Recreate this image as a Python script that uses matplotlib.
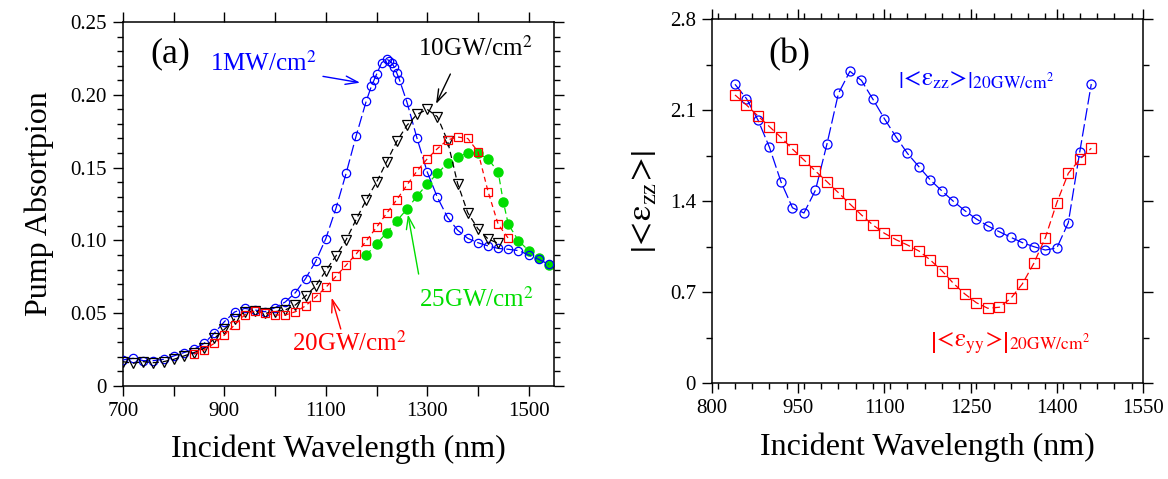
# !usr/bin/env python3
# ===========================================================
# Pump absorption (a) and field enhancement (b) vs incident
# wavelength, two panels side by side
# ===========================================================

import numpy as np
import matplotlib
matplotlib.use('Agg')
import matplotlib.pyplot as plt
from matplotlib.ticker import FixedLocator, MultipleLocator, FuncFormatter

plt.rcParams['font.family'] = ['Liberation Serif', 'DejaVu Serif']
plt.rcParams['mathtext.fontset'] = 'stix'

# == Data, panel (a) ========================================
wl_1mw = [700, 720, 740, 760, 780, 800, 820, 840, 860, 880, 900, 920,
          940, 960, 980, 1000, 1020, 1040, 1060, 1080, 1100, 1120, 1140,
          1160, 1180, 1190, 1195, 1200, 1210, 1220, 1225, 1230, 1235,
          1240, 1245, 1260, 1280, 1300, 1320, 1340, 1360, 1380, 1400,
          1420, 1440, 1460, 1480, 1500, 1520, 1540]
abs_1mw = [0.0179, 0.019, 0.0174, 0.0174, 0.0183, 0.0206, 0.0229, 0.0252,
           0.0293, 0.0362, 0.0442, 0.0508, 0.0533, 0.0522, 0.051, 0.0538,
           0.0577, 0.0641, 0.0737, 0.0856, 0.1012, 0.122, 0.146, 0.172,
           0.196, 0.206, 0.210, 0.214, 0.222, 0.2245, 0.2235, 0.222,
           0.219, 0.215, 0.2105, 0.195, 0.170, 0.147, 0.1296, 0.1159,
           0.107, 0.1014, 0.0984, 0.0962, 0.0945, 0.0939, 0.093, 0.090,
           0.087, 0.0835]

wl_10gw = [700, 720, 740, 760, 780, 800, 820, 840, 860, 880, 900, 920,
           940, 960, 980, 1000, 1020, 1040, 1060, 1080, 1100, 1120, 1140,
           1160, 1180, 1200, 1220, 1240, 1260, 1280, 1300, 1320, 1340,
           1360, 1380, 1400, 1420, 1440]
abs_10gw = [0.0167, 0.0156, 0.0167, 0.016, 0.0167, 0.0183, 0.0206, 0.0229,
            0.0259, 0.0327, 0.0389, 0.0458, 0.051, 0.0515, 0.0499, 0.051,
            0.0522, 0.0556, 0.0618, 0.0687, 0.0792, 0.0893, 0.1003, 0.1145,
            0.128, 0.140, 0.154, 0.168, 0.179, 0.1866, 0.190, 0.185,
            0.1685, 0.139, 0.119, 0.108, 0.101, 0.098]

wl_20gw = [840, 860, 880, 900, 920, 940, 960, 980, 1000, 1020, 1040, 1060,
           1080, 1100, 1120, 1140, 1160, 1180, 1200, 1220, 1240, 1260,
           1280, 1300, 1320, 1340, 1360, 1380, 1400, 1420, 1440, 1460]
abs_20gw = [0.022, 0.0247, 0.0293, 0.035, 0.0419, 0.0488, 0.0515, 0.0499,
            0.0488, 0.0488, 0.051, 0.055, 0.0612, 0.0677, 0.0753, 0.083,
            0.0907, 0.0998, 0.109, 0.1186, 0.128, 0.138, 0.1477, 0.156,
            0.163, 0.169, 0.171, 0.170, 0.161, 0.1335, 0.111, 0.1014]

wl_25gw = [1180, 1200, 1220, 1240, 1260, 1280, 1300, 1320, 1340, 1360,
           1380, 1400, 1420, 1440, 1450, 1460, 1480, 1500, 1520, 1540]
abs_25gw = [0.090, 0.0975, 0.1053, 0.1135, 0.1214, 0.1305, 0.1387, 0.146,
            0.153, 0.1575, 0.160, 0.160, 0.156, 0.147, 0.1266, 0.111,
            0.0998, 0.093, 0.0877, 0.083]

# == Data, panel (b) ========================================
wl_b = [840, 860, 880, 900, 920, 940, 960, 980, 1000, 1020, 1040, 1060,
        1080, 1100, 1120, 1140, 1160, 1180, 1200, 1220, 1240, 1260, 1280,
        1300, 1320, 1340, 1360, 1380, 1400, 1420, 1440, 1460]
eps_zz = [2.30, 2.19, 2.025, 1.815, 1.55, 1.35, 1.31, 1.485, 1.84, 2.23,
          2.40, 2.33, 2.185, 2.035, 1.897, 1.769, 1.666, 1.564, 1.48, 1.40,
          1.328, 1.264, 1.21, 1.166, 1.123, 1.082, 1.051, 1.025, 1.041,
          1.235, 1.782, 2.302]
eps_yy = [2.218, 2.141, 2.056, 1.974, 1.892, 1.802, 1.718, 1.633, 1.551,
          1.466, 1.379, 1.295, 1.218, 1.154, 1.105, 1.064, 1.018, 0.948,
          0.866, 0.769, 0.687, 0.62, 0.577, 0.585, 0.654, 0.764, 0.923,
          1.12, 1.389, 1.615, 1.723, 1.808]

# tick positions
xt_a = [700, 900, 1100, 1300, 1500]
xt_a_minor = [800, 1000, 1200, 1400]
xt_b = [800, 950, 1100, 1250, 1400, 1550]

# == Colours ================================================
c_blue = '#0000ff'
c_red = '#ff0000'
c_green = '#00dd00'
c_black = '#000000'


# == Helpers ================================================
def style_axes(ax):
    '''
    Outward ticks on every side, labels only left/bottom
    '''
    for sp in ax.spines.values():
        sp.set_linewidth(1.1)
    ax.tick_params(which='both', direction='out', top=True, right=True,
                   labelsize=15, width=1.0, pad=4)
    ax.tick_params(which='major', length=7.5)
    ax.tick_params(which='minor', length=4.5)


def y_fmt(v, pos):
    # plain 0, two decimals for the rest
    if abs(v) < 1e-9:
        return '0'
    return f'{v:.2f}'


def y_fmt_b(v, pos):
    if abs(v) < 1e-9:
        return '0'
    return f'{v:.1f}'


def eps_label(sub, tail=''):
    # |<eps_sub>| with part of the relation spacing of < and > removed
    return (r'$\left|\mathrm{\!<\!ε_{' + sub + r'}\!>\!}\right|'
            + tail + '$')


# == Figure =================================================
fig = plt.figure(figsize=(11.68, 4.79), dpi=100)
ax1 = fig.add_axes([0.1053, 0.1942, 0.3690, 0.7598])
ax2 = fig.add_axes([0.6096, 0.1998, 0.3690, 0.7599])

# -- panel (a) ----------------------------------------------
lw = 0.9
ax1.plot(wl_1mw, abs_1mw, color=c_blue, lw=lw, dashes=(9, 3),
         marker='o', ms=6, mfc='none', mew=0.9, zorder=3)
ax1.plot(wl_10gw, abs_10gw, color=c_black, lw=lw, dashes=(5, 3),
         marker='v', ms=6.5, mfc='none', mew=0.9, zorder=3)
ax1.plot(wl_20gw, abs_20gw, color=c_red, lw=lw, dashes=(4, 3),
         marker='s', ms=6.3, mfc='none', mew=0.9, zorder=3)
ax1.plot(wl_25gw, abs_25gw, color=c_green, lw=lw, dashes=(5, 3),
         marker='o', ms=6.5, mfc=c_green, mec=c_green, zorder=2)

ax1.set_xlim(700, 1550)
ax1.set_ylim(0, 0.25)
ax1.xaxis.set_major_locator(FixedLocator(xt_a))
ax1.xaxis.set_minor_locator(FixedLocator(xt_a_minor))
ax1.yaxis.set_major_locator(MultipleLocator(0.05))
ax1.yaxis.set_minor_locator(MultipleLocator(0.01))
ax1.yaxis.set_major_formatter(FuncFormatter(y_fmt))
style_axes(ax1)
ax1.tick_params(axis='x', which='minor', length=7.5)

ax1.set_xlabel('Incident Wavelength (nm)', fontsize=23, labelpad=10)
ax1.set_ylabel('Pump Absortpion', fontsize=23, labelpad=12)

ax1.text(754, 0.222, '(a)', fontsize=26)

arr = dict(arrowstyle='->,head_length=0.9,head_width=0.3', lw=1.0)
ax1.text(872, 0.2163, '1MW/cm$^2$', color=c_blue, fontsize=18)
ax1.annotate('', xy=(1173, 0.208), xytext=(1089, 0.213),
             arrowprops=dict(arr, color=c_blue))
ax1.text(1282, 0.2266, '10GW/cm$^2$', color=c_black, fontsize=18)
ax1.annotate('', xy=(1315, 0.192), xytext=(1348, 0.216),
             arrowprops=dict(arr, color=c_black))
ax1.text(1034, 0.024, '20GW/cm$^2$', color=c_red, fontsize=18)
ax1.annotate('', xy=(1110, 0.0625), xytext=(1131, 0.0373),
             arrowprops=dict(arr, color=c_red))
ax1.text(1284, 0.0543, '25GW/cm$^2$', color=c_green, fontsize=18)
ax1.annotate('', xy=(1261, 0.1197), xytext=(1284, 0.075),
             arrowprops=dict(arr, color=c_green))

# -- panel (b) ----------------------------------------------
ax2.plot(wl_b, eps_zz, color=c_blue, lw=lw, dashes=(10, 3),
         marker='o', ms=6.5, mfc='none', mew=0.9, zorder=3)
ax2.plot(wl_b, eps_yy, color=c_red, lw=lw, dashes=(6, 3),
         marker='s', ms=7, mfc='none', mew=0.9, zorder=3)

ax2.set_xlim(800, 1550)
ax2.set_ylim(0, 2.8)
ax2.xaxis.set_major_locator(FixedLocator(xt_b))
ax2.xaxis.set_minor_locator(MultipleLocator(30))
ax2.yaxis.set_major_locator(MultipleLocator(0.7))
ax2.yaxis.set_minor_locator(MultipleLocator(0.35))
ax2.yaxis.set_major_formatter(FuncFormatter(y_fmt_b))
style_axes(ax2)

ax2.set_xlabel('Incident Wavelength (nm)', fontsize=23, labelpad=10)
ax2.set_ylabel(eps_label('zz'), fontsize=25, labelpad=8)

ax2.text(898, 2.46, '(b)', fontsize=26)
ax2.text(1124, 2.333, eps_label('zz', r'_{\mathrm{20GW/cm^2}}'),
         color=c_blue, fontsize=18, va='center')
ax2.text(1180, 0.31, eps_label('yy', r'_{\mathrm{20GW/cm^2}}'),
         color=c_red, fontsize=18, va='center')

fig.savefig('out.png', dpi=100)
